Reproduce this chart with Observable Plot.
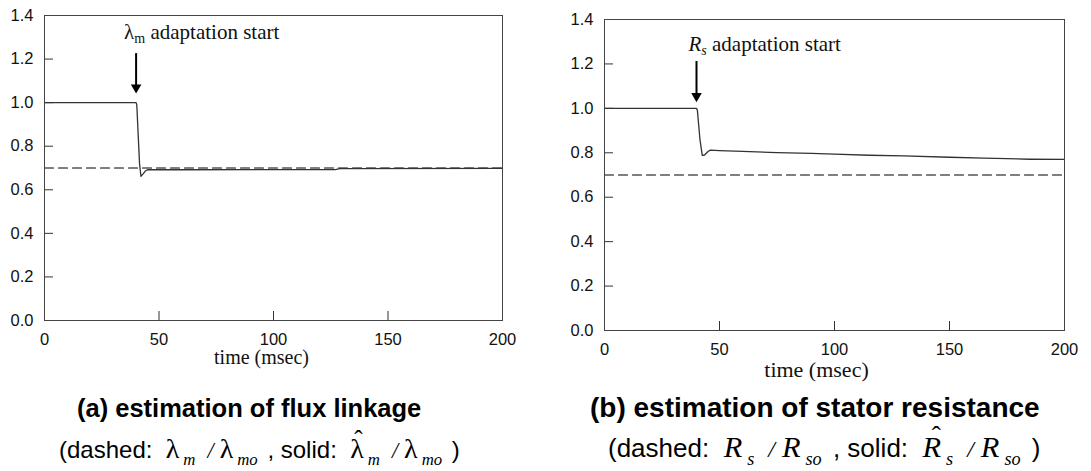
<!DOCTYPE html>
<html><head><meta charset="utf-8">
<script src="https://cdn.jsdelivr.net/npm/d3@7"></script>
<script src="https://cdn.jsdelivr.net/npm/@observablehq/plot@0.6"></script>
<style>
body{margin:0;background:#fff;}
#wrap{position:relative;width:1091px;height:471px;overflow:hidden;background:#fff;}
.panel{position:absolute;top:0;}
.cap{position:absolute;text-align:left;font-family:Arial,"Liberation Sans",sans-serif;color:#000;white-space:nowrap;}
.title{font-weight:bold;}
.ta{font-size:25.5px;line-height:25.5px;}
.tb{font-size:28px;line-height:28px;}
.sa{font-size:24px;line-height:24px;}
.sbx{font-size:26px;line-height:26px;}
.m{font-family:"Liberation Serif","Times New Roman",serif;font-size:1.17em;padding-right:3px;}
.it{font-style:italic;}
.sl{font-family:"Liberation Serif","Times New Roman",serif;font-style:italic;font-size:0.92em;padding:0 6px 0 9px;}
.sb{font-family:"Liberation Serif","Times New Roman",serif;font-style:italic;font-size:0.7em;line-height:0;vertical-align:-0.42em;padding:0 3px 0 1px;}
.sbx .m{padding-right:4px;}
.sbx .sl{padding:0 7px 0 10px;}
.sbx .sb{padding:0 4px 0 1px;}
.hat{position:relative;display:inline-block;}
.hat .h{position:absolute;left:0;right:0;top:-0.4em;text-align:center;font-family:"Liberation Serif",serif;font-style:normal;font-size:0.9em;}
.ih .h{left:5px;}
</style>
</head><body>
<div id="wrap">
  <div class="panel" id="pa" style="left:0px"></div>
  <div class="panel" id="pb" style="left:560px"></div>
  <div class="cap title ta" style="left:77px;top:396px">(a) estimation of flux linkage</div>
  <div class="cap sa" style="left:59px;top:437px">(dashed:&nbsp; <span class="m">λ</span><span class="sb">m</span><span class="sl">/</span><span class="m">λ</span><span class="sb">mo</span> , solid:&nbsp; <span class="hat m">λ<span class="h">ˆ</span></span><span class="sb">m</span><span class="sl">/</span><span class="m">λ</span><span class="sb">mo</span> )</div>
  <div class="cap title tb" style="left:590px;top:394px">(b) estimation of stator resistance</div>
  <div class="cap sbx" style="left:608px;top:434px">(dashed:&nbsp; <span class="m it">R</span><span class="sb">s</span><span class="sl">/</span><span class="m it">R</span><span class="sb">so</span> , solid:&nbsp; <span class="hat ih m it">R<span class="h">ˆ</span></span><span class="sb">s</span><span class="sl">/</span><span class="m it">R</span><span class="sb">so</span> )</div>
</div>
<script>
const xTicks = [0, 50, 100, 150, 200];
const yTicks = [0, 0.2, 0.4, 0.6, 0.8, 1.0, 1.2, 1.4];

// (a) flux linkage
const timeA  = [0, 40, 40.3, 41.5, 42.1, 43, 44, 45, 60, 127, 129, 200];
const solidA = [1.0, 1.0, 0.99, 0.72, 0.662, 0.672, 0.686, 0.692, 0.692, 0.693, 0.697, 0.698];
const dashTimeA = [0, 200];
const dashA = [0.7, 0.7];
const arrowA = [{x: 40, y1: 1.225, y2: 1.042}];
const labelA = ["λ", "m", " adaptation start"];

// (b) stator resistance
const timeB  = [0, 40, 40.4, 41.5, 42.5, 43.5, 45, 46, 50, 60, 75, 90, 100, 115, 130, 150, 165, 185, 200];
const solidB = [1.0, 1.0, 0.99, 0.86, 0.788, 0.79, 0.806, 0.812, 0.81, 0.806, 0.801, 0.797, 0.794, 0.789, 0.786, 0.780, 0.776, 0.771, 0.770];
const dashTimeB = [0, 200];
const dashB = [0.7, 0.7];
const arrowB = [{x: 40, y1: 1.211, y2: 1.028}];
const labelB = ["R", "s", " adaptation start"];

const xLabel = "time (msec)";

function panel(o) {
  const iw = o.width - o.ml - o.mr, ih = o.height - o.mt - o.mb;
  const solidData = o.time.map((t, i) => ({t, v: o.solid[i]}));
  const dashData = o.dashT.map((t, i) => ({t, v: o.dash[i]}));
  const full = o.label.join("");
  const serif = "'Liberation Serif', 'Times New Roman', serif";
  const svg = Plot.plot({
    width: o.width, height: o.height,
    marginTop: o.mt, marginRight: o.mr, marginBottom: o.mb, marginLeft: o.ml,
    style: {fontFamily: "Arial, 'Liberation Sans', sans-serif", fontSize: "16.5px", color: "#111", background: "transparent", overflow: "visible"},
    x: {domain: [0, 200]},
    y: {domain: [0, 1.4]},
    marks: [
      Plot.axisX({ticks: xTicks, tickSize: 0, tickPadding: 12.5, label: null, fontSize: 16.5}),
      Plot.axisY({ticks: yTicks, tickSize: 0, tickPadding: 11, tickFormat: d3.format(".1f"), label: null, fontSize: 16.5}),
      Plot.tickX(xTicks, {x: d => d, insetTop: ih - 9, stroke: "#333"}),
      Plot.tickY(yTicks, {y: d => d, insetRight: iw - 9, stroke: "#333"}),
      Plot.line(dashData, {x: "t", y: "v", stroke: "#000", strokeDasharray: "9,5", strokeWidth: 1.1}),
      Plot.line(solidData, {x: "t", y: "v", stroke: "#333", strokeWidth: 1.3}),
      Plot.ruleX(o.arrow, {x: "x", y1: "y1", y2: "y2", stroke: "#000", strokeWidth: 2, insetBottom: 5}),
      Plot.dot(o.arrow, {x: "x", y: "y2", symbol: "triangle", rotate: 180, r: 3.9, fill: "#000", stroke: "none", dy: -6}),
      Plot.text(o.arrow, {x: "x", frameAnchor: "top", lineAnchor: "middle", text: () => full, textAnchor: "start", dx: o.labelDx, dy: o.labelDy, fontFamily: serif, fontSize: 21, fill: "#111"}),
      Plot.text([xLabel], {text: d => d, frameAnchor: "bottom", lineAnchor: "middle", dx: o.timeDx, dy: o.timeDy, fontFamily: serif, fontSize: o.timeSize, fill: "#111"}),
      Plot.frame({stroke: "#444"})
    ]
  });
  d3.select(svg).selectAll("text").filter(function() { return this.textContent === full; }).each(function() {
    const t = d3.select(this);
    t.text(null);
    t.append("tspan").text(o.label[0]).attr("font-style", o.italic ? "italic" : null);
    t.append("tspan").text(o.label[1]).attr("font-size", 14).attr("dy", 4).attr("font-style", o.italic ? "italic" : null);
    t.append("tspan").text(o.label[2]).attr("dy", -4);
  });
  return svg;
}

document.getElementById("pa").appendChild(panel({
  width: 530, height: 370, mt: 15, mr: 28, mb: 50, ml: 44,
  time: timeA, solid: solidA, dashT: dashTimeA, dash: dashA,
  arrow: arrowA, label: labelA, italic: false, labelDx: -12, labelDy: 16.6,
  timeDx: -12, timeDy: 37, timeSize: 20
}));
document.getElementById("pb").appendChild(panel({
  width: 531, height: 380, mt: 19, mr: 27, mb: 50, ml: 44,
  time: timeB, solid: solidB, dashT: dashTimeB, dash: dashB,
  arrow: arrowB, label: labelB, italic: true, labelDx: -8, labelDy: 24.6,
  timeDx: -18, timeDy: 39, timeSize: 22
}));
</script>
</body></html>
